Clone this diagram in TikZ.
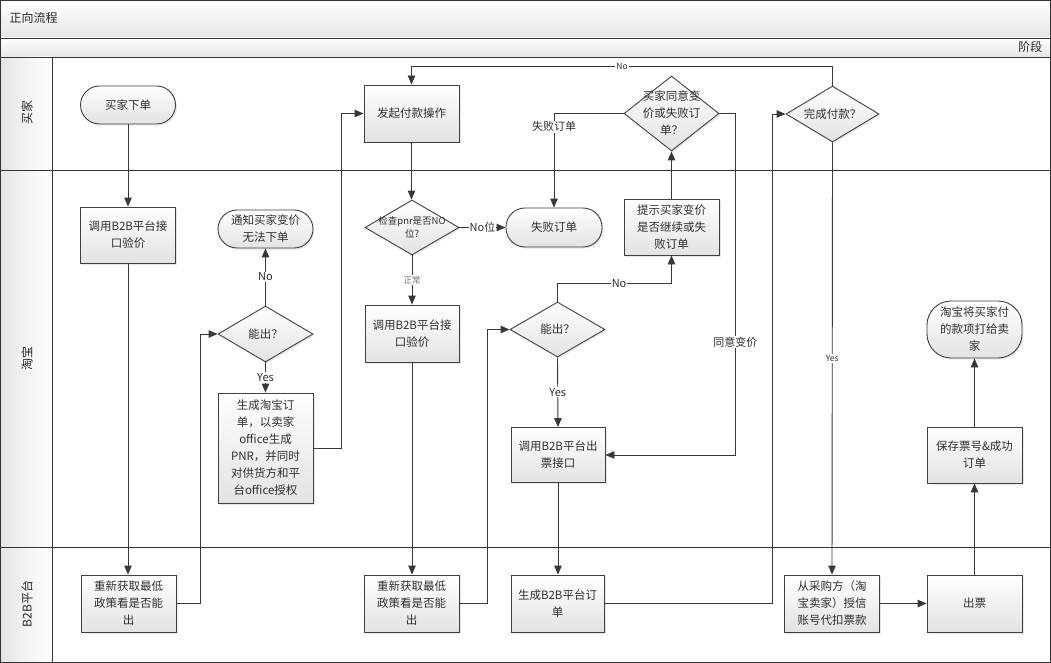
\documentclass[tikz,border=0pt]{standalone}
\usepackage{fontspec}
\setmainfont{Noto Sans CJK SC}
\usetikzlibrary{shapes.geometric,arrows.meta,shadows}
\begin{document}
\begin{tikzpicture}[x=1pt,y=-1pt,
  line/.style={draw=black!78, line width=0.9pt},
  arr/.style={line, -{Triangle[length=9pt,width=7.5pt]}},
  base/.style={draw=black!75, line width=0.9pt, top color=white, bottom color=black!11,
    drop shadow={opacity=0.18,shadow xshift=1.5pt,shadow yshift=-1.5pt},
    font=\fontsize{11.5}{17}\selectfont, align=center, inner sep=0pt, text=black!82},
  proc/.style={base, rectangle, minimum width=95pt, minimum height=56pt},
  term/.style={base, rectangle, rounded corners=19pt, minimum width=95pt, minimum height=38pt},
  dia/.style={base, diamond, minimum width=95pt, minimum height=56pt},
  dlab/.style={font=\fontsize{11.5}{17}\selectfont, align=center, text=black!82},
  lab/.style={fill=white, inner sep=1pt, font=\fontsize{11}{13}\selectfont, text=black!82},
  slab/.style={fill=white, inner sep=1pt, font=\fontsize{8.5}{10}\selectfont, text=black!82},
  frame/.style={draw=black!80, line width=0.9pt}
]
\useasboundingbox (0,0) rectangle (1051,663);
% frame and lanes
\fill[top color=white, bottom color=black!10] (0,0) rectangle (1050,38);
\fill[top color=white, bottom color=black!10] (0,38) rectangle (1050,57);
\fill[left color=black!10, right color=white] (0,57) rectangle (52,662);
\draw[frame] (0.5,0.5) rectangle (1050,662);
\draw[frame] (0,38) -- (1050,38);
\draw[frame] (0,57) -- (1050,57);
\draw[frame] (0,170) -- (1050,170);
\draw[frame] (0,547) -- (1050,547);
\draw[frame] (52,57) -- (52,662);
\node[anchor=west, font=\fontsize{12}{14}\selectfont, text=black!85] (title) at (6,18) {正向流程};
\node[anchor=east, font=\fontsize{12}{14}\selectfont, text=black!85] (phase) at (1046,47) {阶段};
\node[rotate=90, font=\fontsize{12}{14}\selectfont, text=black!85] (l1) at (27,113) {买家};
\node[rotate=90, font=\fontsize{12}{14}\selectfont, text=black!85] (l2) at (27,358) {淘宝};
\node[rotate=90, font=\fontsize{12}{14}\selectfont, text=black!85] (l3) at (27,604) {B2B平台};

% lane 1
\node[term] (buy) at (128,105) {买家下单};
\node[proc, minimum height=57pt] (pay) at (411.5,113.5) {发起付款操作};
\node[dia, minimum height=75pt, label={[dlab]center:买家同意变\\价或失败订\\单？}] (agree) at (671.5,113.5) {};
\node[dia, minimum width=93pt, label={[dlab]center:完成付款？}] (done) at (832.5,114) {};

% lane 2
\node[proc] (chk1) at (128,235) {调用B2B平台接\\口验价};
\node[term] (notify) at (265.5,229) {通知买家变价\\无法下单};
\node[dia, label={[dlab]center:能出？}] (can1) at (265.5,334) {};
\node[proc, minimum height=110pt] (gen) at (265.5,448) {生成淘宝订\\单，以卖家\\office生成\\PNR，并同时\\对供货方和平\\台office授权};
\node[dia, minimum width=94pt, minimum height=55pt, label={[dlab, font=\fontsize{9.5}{13}\selectfont]center:检查pnr是否NO\\位?}] (pnr) at (412,227.5) {};
\node[term, minimum width=96pt, minimum height=39pt] (fail) at (554,227.5) {失败订单};
\node[proc, minimum width=94pt, minimum height=57pt] (chk2) at (412,333.5) {调用B2B平台接\\口验价};
\node[dia, minimum height=55pt, label={[dlab]center:能出？}] (can2) at (557.5,329.5) {};
\node[proc, minimum width=94pt, minimum height=55pt] (issue) at (558,455) {调用B2B平台出\\票接口};
\node[proc] (prompt) at (671.5,227) {提示买家变价\\是否继续或失\\败订单};
\node[proc] (save) at (974.5,455) {保存票号\&成功\\订单};
\node[term, rounded corners=24pt, minimum height=57pt] (settle) at (974.5,329.5) {淘宝将买家付\\的款项打给卖\\家};

% lane 3
\node[proc, minimum height=57pt] (re1) at (128.5,603.5) {重新获取最低\\政策看是否能\\出};
\node[proc, minimum height=57pt] (re2) at (411.5,603.5) {重新获取最低\\政策看是否能\\出};
\node[proc, minimum width=93pt, minimum height=57pt] (b2bord) at (557.5,603.5) {生成B2B平台订\\单};
\node[proc, minimum height=57pt] (deduct) at (832,603.5) {从采购方（淘\\宝卖家）授信\\账号代扣票款};
\node[proc, minimum height=57pt] (ticket) at (974.5,603.5) {出票};

% connectors
\draw[arr] (buy.south) -- (buy.south |- chk1.north);
\draw[arr] (chk1.south) -- (chk1.south |- re1.north);
\draw[arr] (re1.east) -- ++(24,0) |- (can1.west);
\draw[arr] (can1.north) -- node[lab]{No} (notify.south);
\draw[arr] (can1.south) -- node[lab]{Yes} (gen.north);
\draw[arr] (gen.east) -- ++(28,0) |- (pay.west);
\draw[arr] (pay.south) -- (pay.south |- pnr.north);
\draw[arr] (pnr.east) -- node[lab]{No位} (fail.west);
\draw[arr] (pnr.south) -- node[slab, text=black!55]{正常} (chk2.north);
\draw[arr] (chk2.south) -- (chk2.south |- re2.north);
\draw[arr] (re2.east) -- ++(28,0) |- (can2.west);
\draw[arr] (can2.north) -- ++(0,-18) -| node[lab, pos=0.27]{No} (prompt.south);
\draw[arr] (can2.south) -- node[lab]{Yes} (issue.north);
\draw[arr] (prompt.north) -- (agree.south);
\draw[arr] (agree.west) -| node[lab, pos=0.57]{失败订单} (fail.north);
\draw[arr] (agree.east) -- ++(16,0) |- node[lab, pos=0.335]{同意变价} (issue.east);
\draw[arr] (issue.south) -- (issue.south |- b2bord.north);
\draw[arr] (b2bord.east) -- ++(167.5,0) |- (done.west);
\draw[arr] (done.north) -- ++(0,-19) -| node[slab, pos=0.25]{No} (pay.north);
\draw[arr] (done.south) -- node[slab]{Yes} (deduct.north);
\draw[arr] (deduct.east) -- (ticket.west);
\draw[arr] (ticket.north) -- (save.south);
\draw[arr] (save.north) -- (settle.south);
\end{tikzpicture}
\end{document}
